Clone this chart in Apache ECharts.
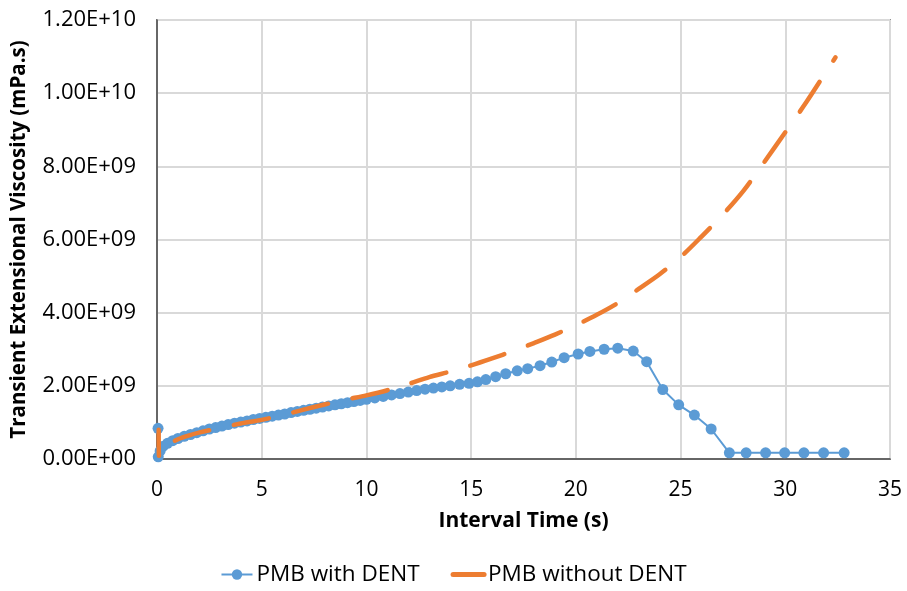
<!DOCTYPE html>
<html>
<head>
<meta charset="utf-8">
<script src="https://cdn.jsdelivr.net/npm/echarts@6/dist/echarts.min.js"></script>
<style>
  html, body { margin: 0; padding: 0; background: #ffffff; }
  #chart { width: 907px; height: 591px; }
</style>
</head>
<body>
<div id="chart"></div>
<script>
// Viscosity values are stored in units of 1e9 mPa.s
const SCALE = 1e9;

// PMB with DENT
const withDentTime = [
  0.05, 0.06, 0.15, 0.3, 0.5, 0.75, 1.0, 1.3, 1.6, 1.9, 2.2, 2.5, 2.8, 3.1, 3.4, 3.7,
  4.0, 4.3, 4.6, 4.9, 5.2, 5.5, 5.8, 6.1, 6.4, 6.7, 7.0, 7.3, 7.6, 7.9, 8.2, 8.5,
  8.8, 9.1, 9.4, 9.7, 10.0, 10.4, 10.8, 11.2, 11.6, 12.0, 12.4, 12.8, 13.2, 13.6,
  14.0, 14.45, 14.9, 15.3, 15.7, 16.17, 16.65, 17.2, 17.7, 18.29, 18.85, 19.44,
  20.11, 20.67, 21.35, 22.0, 22.74, 23.38, 24.15, 24.91, 25.66, 26.46, 27.33,
  28.13, 29.06, 29.97, 30.89, 31.83, 32.81
];
const withDentVisc = [
  0.84, 0.06, 0.22, 0.35, 0.43, 0.50, 0.56, 0.62, 0.67, 0.72, 0.77, 0.82, 0.86, 0.90, 0.94, 0.98,
  1.01, 1.04, 1.08, 1.11, 1.14, 1.17, 1.20, 1.23, 1.27, 1.30, 1.33, 1.36, 1.39, 1.42, 1.45, 1.48,
  1.51, 1.54, 1.57, 1.60, 1.63, 1.67, 1.71, 1.75, 1.79, 1.83, 1.87, 1.91, 1.94, 1.97,
  2.00, 2.04, 2.07, 2.11, 2.17, 2.25, 2.33, 2.41, 2.47, 2.55, 2.65, 2.77,
  2.87, 2.94, 3.00, 3.03, 2.95, 2.66, 1.90, 1.48, 1.20, 0.82, 0.17,
  0.17, 0.17, 0.17, 0.17, 0.17, 0.17
];

// PMB without DENT
const withoutDentTime = [
  0.08, 0.1, 0.3, 0.6, 1.0, 1.5, 2.0, 3.0, 4.0, 5.0, 6.0, 7.0, 8.0, 9.0, 10.0,
  11.0, 12.0, 13.0, 14.0, 15.0, 16.0, 17.0, 18.0, 19.0, 20.0, 21.0, 22.0, 23.0,
  24.0, 25.0, 26.0, 27.0, 28.0, 29.0, 30.0, 31.0, 32.0, 32.4
];
const withoutDentVisc = [
  0.80, 0.05, 0.28, 0.42, 0.54, 0.64, 0.72, 0.85, 0.97, 1.07, 1.20, 1.35, 1.49, 1.62, 1.74,
  1.88, 2.05, 2.24, 2.39, 2.56, 2.75, 2.95, 3.17, 3.40, 3.66, 3.94, 4.26, 4.65,
  5.05, 5.52, 6.08, 6.67, 7.33, 8.12, 8.93, 9.75, 10.63, 10.98
];

const xTicks = { min: 0, max: 35, step: 5 };
const yTicks = { min: 0, max: 1.2e10, step: 2e9 };

const BLUE = '#5B9BD5';
const ORANGE = '#ED7D31';
const FONT = '"Open Sans", "Noto Sans", sans-serif';

function pairs(xs, ys) {
  return xs.map((x, i) => [x, ys[i] * SCALE]);
}

function sci(v) {
  if (v === 0) return '0.00E+00';
  const e = Math.floor(Math.log10(v) + 1e-9);
  const m = v / Math.pow(10, e);
  return m.toFixed(2) + 'E+' + (e < 10 ? '0' + e : String(e));
}

const chart = echarts.init(document.getElementById('chart'), null, { renderer: 'canvas' });

chart.setOption({
  animation: false,
  backgroundColor: '#ffffff',
  grid: {
    left: 157, right: 17, top: 20, bottom: 132,
    show: true, borderColor: '#404040', borderWidth: 1.5, backgroundColor: 'transparent'
  },
  xAxis: {
    type: 'value',
    min: xTicks.min, max: xTicks.max, interval: xTicks.step,
    name: 'Interval Time (s)',
    nameLocation: 'middle',
    nameGap: 52,
    nameTextStyle: { fontFamily: FONT, fontWeight: 'bold', fontSize: 21, color: '#000' },
    axisLine: { show: true, lineStyle: { color: '#404040', width: 1.5 } },
    axisTick: { show: false },
    axisLabel: { fontFamily: FONT, fontSize: 21, color: '#000', margin: 21 },
    splitLine: { show: true, lineStyle: { color: '#d9d9d9', width: 2 } }
  },
  yAxis: {
    type: 'value',
    min: yTicks.min, max: yTicks.max, interval: yTicks.step,
    name: 'Transient Extensional Viscosity (mPa.s)',
    nameLocation: 'middle',
    nameGap: 127,
    nameTextStyle: { fontFamily: FONT, fontWeight: 'bold', fontSize: 20.5, color: '#000' },
    axisLine: { show: true, lineStyle: { color: '#404040', width: 1.5 } },
    axisTick: { show: false },
    axisLabel: { fontFamily: FONT, fontSize: 22, color: '#000', margin: 21, formatter: sci },
    splitLine: { show: true, lineStyle: { color: '#d9d9d9', width: 2 } }
  },
  legend: {
    bottom: 0,
    left: 'center',
    itemWidth: 31,
    itemHeight: 13,
    itemGap: 31,
    textStyle: { fontFamily: FONT, fontSize: 22.5, color: '#000', padding: [0, 0, 0, -1] },
    data: [
      { name: 'PMB with DENT' },
      {
        name: 'PMB without DENT',
        itemStyle: { opacity: 0 },
        lineStyle: { type: 'solid', width: 5, cap: 'round' }
      }
    ]
  },
  series: [
    {
      name: 'PMB with DENT',
      type: 'line',
      data: pairs(withDentTime, withDentVisc),
      symbol: 'circle',
      symbolSize: 11,
      showAllSymbol: true,
      clip: false,
      itemStyle: { color: BLUE },
      lineStyle: { color: BLUE, width: 2 },
      z: 2
    },
    {
      name: 'PMB without DENT',
      type: 'line',
      data: pairs(withoutDentTime, withoutDentVisc),
      symbol: 'none',
      smooth: 0.3,
      clip: false,
      itemStyle: { color: ORANGE },
      lineStyle: { color: ORANGE, width: 4.5, type: [36, 25], dashOffset: 10, cap: 'round', join: 'round' },
      z: 3
    }
  ]
});
</script>
</body>
</html>
